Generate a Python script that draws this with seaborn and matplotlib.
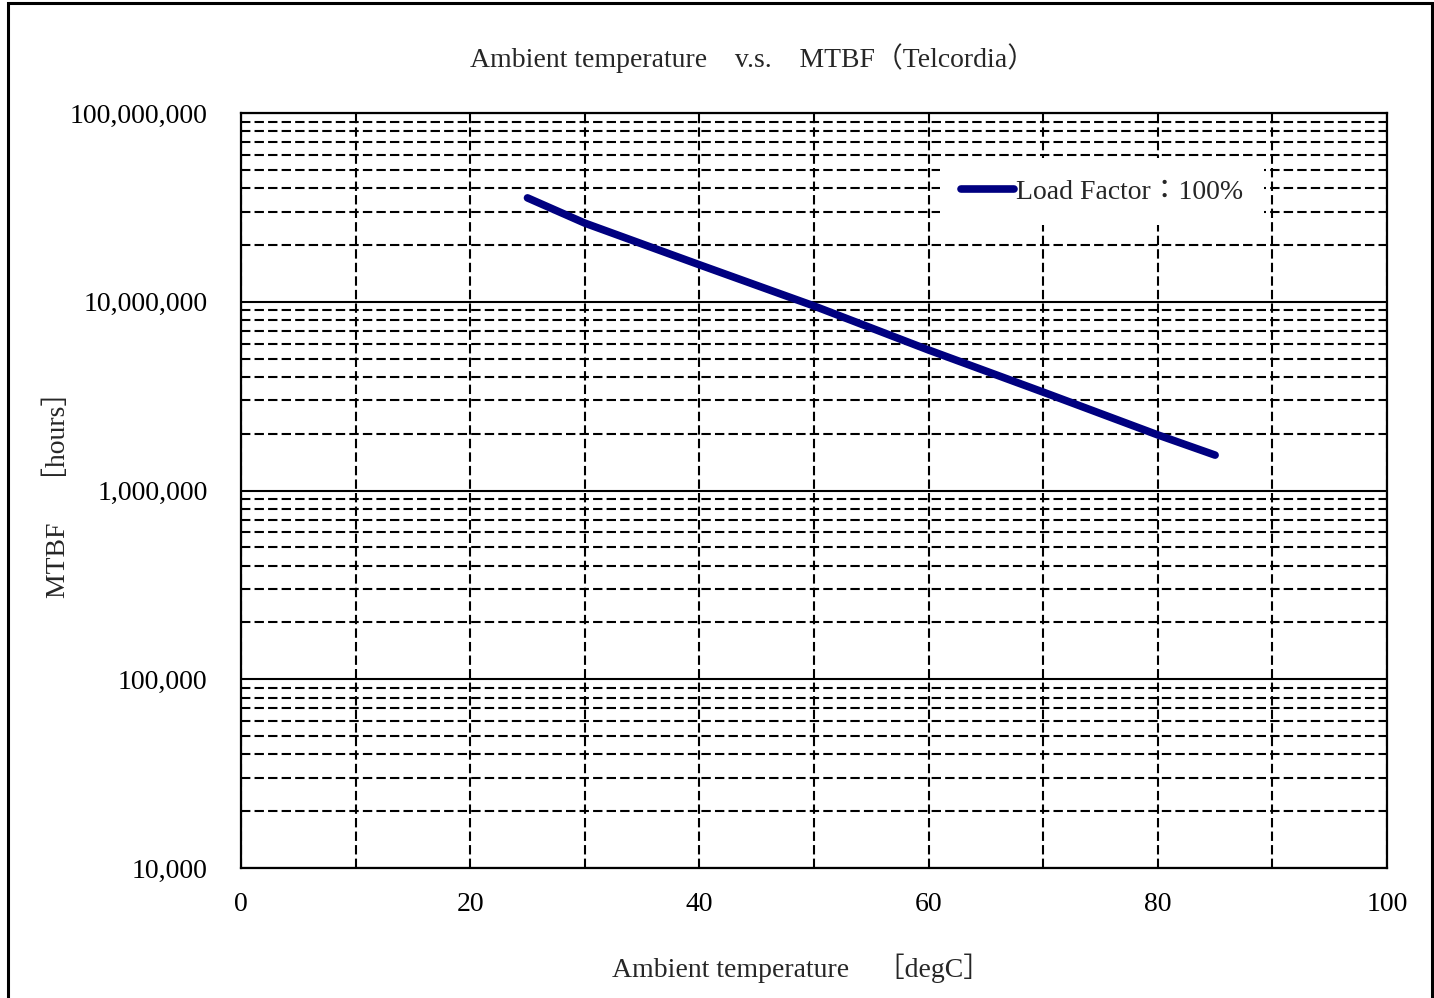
import numpy as np
import pandas as pd
import matplotlib
matplotlib.use("Agg")
import matplotlib.pyplot as plt
import matplotlib.ticker as mticker
from matplotlib.patches import Rectangle
import seaborn as sns

# ---- data ----
temperature = [25, 30, 40, 50, 60, 70, 80, 85]
mtbf_hours = [35.5e6, 26.1e6, 15.7e6, 9.5e6, 5.55e6, 3.32e6, 1.97e6, 1.54e6]
series_label = "Load Factor\uff1a100%"
x_ticks = [0, 20, 40, 60, 80, 100]
y_ticks = [1e4, 1e5, 1e6, 1e7, 1e8]

df = pd.DataFrame({"temp": temperature, "mtbf": mtbf_hours, "series": series_label})

sns.set_style("white")
FAM = ["Liberation Serif", "Noto Sans CJK JP", "DejaVu Sans"]
plt.rcParams["font.family"] = FAM
FS = 20

fig = plt.figure(figsize=(14.34, 9.98), dpi=100)
ax = fig.add_axes([241/1434, 1-868/998, (1387-241)/1434, (868-113)/998])

sns.lineplot(data=df, x="temp", y="mtbf", hue="series", palette=["#000080"],
             linewidth=5.5, ax=ax, solid_capstyle="round", legend=True)

ax.set_yscale("log")
ax.set_xlim(0, 100)
ax.set_ylim(1e4, 1e8)
ax.set_xticks(x_ticks)
ax.set_yticks(y_ticks)
ax.xaxis.set_minor_locator(mticker.MultipleLocator(10))
ax.yaxis.set_minor_locator(mticker.LogLocator(base=10, subs=np.arange(2, 10)))
ax.yaxis.set_minor_formatter(mticker.NullFormatter())
ax.yaxis.set_major_formatter(mticker.FuncFormatter(lambda v, p: f"{v:,.0f}"))
ax.tick_params(axis="both", which="both", length=0, labelsize=FS, colors="black")
ax.tick_params(axis="y", pad=24)
ax.tick_params(axis="x", pad=17)

ax.set_axisbelow(True)
dash = (0, (4.5, 2))
ax.yaxis.grid(True, which="major", color="black", ls="-", lw=1.5)
ax.yaxis.grid(True, which="minor", color="black", ls=dash, lw=1.5)
ax.xaxis.grid(True, which="both", color="black", ls=dash, lw=1.5)

for s in ax.spines.values():
    s.set_visible(True)
    s.set_color("black")
    s.set_linewidth(1.6)

ax.set_xlabel("")
ax.set_ylabel("")

leg = ax.legend(loc="upper right", bbox_to_anchor=(0.893, 0.94), frameon=True,
                fontsize=FS, handlelength=1.9, handletextpad=0.1, borderpad=0.75,
                borderaxespad=0, fancybox=False)
leg.get_frame().set_edgecolor("none")
leg.get_frame().set_facecolor("white")
leg.get_frame().set_alpha(1)

fig.text(752/1434, 1-58/998, "Ambient temperature\u3000v.s.\u3000MTBF\uff08Telcordia\uff09",
         ha="center", va="center", fontsize=FS, family=FAM)
fig.text(801/1434, 1-968/998, "Ambient temperature\u3000\uff3bdegC\uff3d",
         ha="center", va="center", fontsize=FS, family=FAM)
fig.text(58/1434, 1-488/998, "MTBF\u3000\uff3bhours\uff3d",
         ha="center", va="center", rotation=90, fontsize=FS, family=FAM)

fig.patches.append(Rectangle((8/1434, -0.05), (1432-8)/1434, 1.05-3/998,
                             transform=fig.transFigure, fill=False,
                             edgecolor="black", linewidth=2.2))

fig.savefig("out.png", dpi=100, facecolor="white")
